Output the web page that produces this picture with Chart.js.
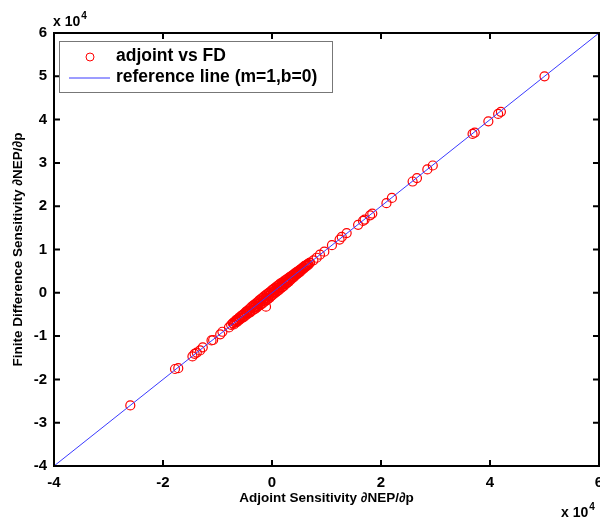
<!DOCTYPE html>
<html>
<head>
<meta charset="utf-8">
<script src="https://cdn.jsdelivr.net/npm/chart.js@4/dist/chart.umd.min.js"></script>
<style>
html,body{margin:0;padding:0;background:#fff;}
#wrap{width:600px;height:520px;position:relative;}
</style>
</head>
<body>
<div id="wrap"><canvas id="c" width="600" height="520"></canvas></div>
<script>
// ---- data (units of 1e4) ----
// sparse points
const adjointOuterX = [5.0, 4.15, 4.2, 3.97, 3.68, 3.72, 2.95, 2.85, 2.66, 2.58, 2.2, 2.1,
  1.84, 1.80, 1.70, 1.67, 1.58, 1.37, 1.28, 1.24, 1.10, 0.96, 0.88, 0.82, 0.76,
  -0.75, -0.79, -0.91, -0.95, -1.08, -1.11, -1.27, -1.32, -1.38,
  -1.42, -1.46, -1.72, -1.78, -2.6, -0.11];
const fdOuterY = [5.0, 4.13, 4.18, 3.96, 3.67, 3.70, 2.94, 2.85, 2.65, 2.57, 2.19, 2.07,
  1.83, 1.79, 1.69, 1.66, 1.57, 1.38, 1.29, 1.23, 1.10, 0.95, 0.88, 0.81, 0.75,
  -0.74, -0.80, -0.90, -0.96, -1.09, -1.10, -1.26, -1.33, -1.38,
  -1.41, -1.47, -1.74, -1.76, -2.6, -0.32];
// dense cluster near zero
const adjointDenseX = [-0.72,-0.70,-0.69,-0.67,-0.66,-0.64,-0.63,-0.61,-0.60,-0.58,-0.57,-0.55,
  -0.54,-0.52,-0.51,-0.49,-0.48,-0.46,-0.45,-0.43,-0.42,-0.40,-0.39,-0.37,-0.36,-0.34,-0.33,
  -0.31,-0.30,-0.28,-0.27,-0.25,-0.24,-0.22,-0.21,-0.19,-0.18,-0.16,-0.15,-0.13,-0.12,-0.10,
  -0.09,-0.07,-0.06,-0.04,-0.03,-0.01,0.00,0.01,0.03,0.04,0.06,0.07,0.09,0.10,0.12,0.13,0.15,
  0.16,0.18,0.19,0.21,0.22,0.24,0.25,0.27,0.28,0.30,0.31,0.33,0.34,0.36,0.37,0.39,0.40,0.42,
  0.43,0.45,0.46,0.48,0.49,0.51,0.52,0.54,0.55,0.57,0.58,0.60,0.61,0.63,0.64,0.66,0.67,0.69,0.70,
  -0.65,-0.59,-0.53,-0.47,-0.41,-0.35,-0.32,-0.29,-0.26,-0.23,-0.20,-0.17,-0.14,-0.11,-0.08,
  -0.05,-0.02,0.02,0.05,0.08,0.11,0.14,0.17,0.20,0.23,0.26,0.29,0.32,0.35,0.38,0.41,0.44,0.47,
  0.50,0.53,0.56,0.59,0.62,0.65];
const fdDenseY = [-0.70,-0.73,-0.67,-0.69,-0.63,-0.67,-0.61,-0.64,-0.57,-0.61,-0.54,-0.58,
  -0.51,-0.56,-0.48,-0.53,-0.44,-0.50,-0.41,-0.47,-0.38,-0.45,-0.34,-0.42,-0.31,-0.39,-0.28,
  -0.37,-0.25,-0.34,-0.22,-0.31,-0.18,-0.28,-0.15,-0.26,-0.12,-0.23,-0.09,-0.20,-0.06,-0.17,
  -0.03,-0.14,0.00,-0.11,0.03,-0.07,0.06,-0.05,0.09,-0.02,0.12,0.01,0.15,0.04,0.18,0.07,0.21,
  0.10,0.23,0.13,0.26,0.16,0.29,0.20,0.31,0.23,0.34,0.26,0.37,0.30,0.39,0.33,0.42,0.36,0.45,
  0.40,0.48,0.43,0.50,0.46,0.53,0.49,0.56,0.53,0.59,0.56,0.62,0.59,0.64,0.62,0.67,0.65,0.69,0.70,
  -0.65,-0.59,-0.53,-0.47,-0.42,-0.35,-0.33,-0.30,-0.26,-0.24,-0.20,-0.18,-0.14,-0.12,-0.08,
  -0.06,-0.02,0.01,0.05,0.07,0.11,0.13,0.17,0.19,0.23,0.25,0.29,0.31,0.35,0.37,0.41,0.43,0.47,
  0.49,0.53,0.56,0.59,0.62,0.65];
const refX = [-4, 6];
const refY = [-4, 6];
const xTickStep = 2;
const yTickStep = 1;
const axisMin = -4, axisMax = 6;
const seriesLabels = ['adjoint vs FD', 'reference line (m=1,b=0)'];
const xTitle = 'Adjoint Sensitivity \u2202NEP/\u2202p';
const yTitle = 'Finite Difference Sensitivity \u2202NEP/\u2202p';
const expLabel = ['x 10', '4'];

const FONT = "'Liberation Sans', Arial, Helvetica, sans-serif";

const scatterData = adjointOuterX.map((v, i) => ({ x: v, y: fdOuterY[i] }))
  .concat(adjointDenseX.map((v, i) => ({ x: v, y: fdDenseY[i] })));

const framePlugin = {
  id: 'frame',
  afterDraw(chart) {
    const ctx = chart.ctx;
    const a = chart.chartArea;
    const xs = chart.scales.x, ys = chart.scales.y;
    ctx.save();
    ctx.strokeStyle = '#000';
    ctx.lineWidth = 2;
    ctx.strokeRect(a.left, a.top, a.right - a.left, a.bottom - a.top);
    const tl = 6;
    ctx.beginPath();
    xs.ticks.forEach(t => {
      const px = xs.getPixelForValue(t.value);
      ctx.moveTo(px, a.bottom); ctx.lineTo(px, a.bottom - tl);
      ctx.moveTo(px, a.top); ctx.lineTo(px, a.top + tl);
    });
    ys.ticks.forEach(t => {
      const py = ys.getPixelForValue(t.value);
      ctx.moveTo(a.left, py); ctx.lineTo(a.left + tl, py);
      ctx.moveTo(a.right, py); ctx.lineTo(a.right - tl, py);
    });
    ctx.stroke();

    // exponent labels
    ctx.fillStyle = '#000';
    ctx.textBaseline = 'alphabetic';
    ctx.textAlign = 'left';
    ctx.font = 'bold 14px ' + FONT;
    ctx.fillText(expLabel[0], a.left - 1, a.top - 7);
    let w = ctx.measureText(expLabel[0]).width;
    ctx.font = 'bold 10px ' + FONT;
    ctx.fillText(expLabel[1], a.left - 1 + w + 1, a.top - 14);
    ctx.font = 'bold 14px ' + FONT;
    ctx.fillText(expLabel[0], a.right - 38, 517);
    w = ctx.measureText(expLabel[0]).width;
    ctx.font = 'bold 10px ' + FONT;
    ctx.fillText(expLabel[1], a.right - 38 + w + 1, 510);

    // legend box
    const lx = 59, ly = a.top + 8, lw = 273, lh = 51;
    ctx.fillStyle = '#fff';
    ctx.fillRect(lx, ly, lw, lh);
    ctx.strokeStyle = '#777';
    ctx.lineWidth = 1;
    ctx.strokeRect(lx + 0.5, ly + 0.5, lw, lh);
    ctx.strokeStyle = '#ff0000';
    ctx.beginPath();
    ctx.arc(90, ly + 16, 4, 0, Math.PI * 2);
    ctx.stroke();
    ctx.strokeStyle = '#3a3aff';
    ctx.beginPath();
    ctx.moveTo(69, ly + 37); ctx.lineTo(110, ly + 37);
    ctx.stroke();
    ctx.fillStyle = '#000';
    ctx.font = 'bold 17.5px ' + FONT;
    ctx.textBaseline = 'middle';
    ctx.fillText(seriesLabels[0], 116, ly + 15);
    ctx.fillText(seriesLabels[1], 116, ly + 36);
    ctx.restore();
  }
};

new Chart(document.getElementById('c'), {
  type: 'scatter',
  data: {
    datasets: [
      {
        label: seriesLabels[0],
        data: scatterData,
        borderColor: '#ff0000',
        backgroundColor: 'rgba(0,0,0,0)',
        pointRadius: 4.5,
        pointBorderWidth: 1.2,
        pointHoverRadius: 4.5,
        order: 2
      },
      {
        type: 'line',
        label: seriesLabels[1],
        data: refX.map((v, i) => ({ x: v, y: refY[i] })),
        borderColor: '#3a3aff',
        borderWidth: 1,
        pointRadius: 0,
        fill: false,
        order: 1
      }
    ]
  },
  options: {
    responsive: false,
    animation: false,
    events: [],
    layout: { autoPadding: false, padding: { top: 33, right: 1, left: 0, bottom: 2 } },
    plugins: { legend: { display: false }, tooltip: { enabled: false } },
    scales: {
      x: {
        type: 'linear', min: axisMin, max: axisMax,
        grid: { display: false, drawTicks: false },
        border: { display: false },
        ticks: { stepSize: xTickStep, padding: 8, color: '#000',
          font: { family: FONT, size: 15, weight: 'bold' },
          maxRotation: 0, autoSkip: false, callback: v => String(v) },
        title: { display: true, text: xTitle, color: '#000',
          font: { family: FONT, size: 13.5, weight: 'bold' }, padding: { top: 0, bottom: 12 } },
        afterFit(s) { s.height = 52; s.paddingLeft = 0; s.paddingRight = 0; }
      },
      y: {
        type: 'linear', min: axisMin, max: axisMax,
        grid: { display: false, drawTicks: false },
        border: { display: false },
        ticks: { stepSize: yTickStep, padding: 7, color: '#000',
          font: { family: FONT, size: 15, weight: 'bold' },
          autoSkip: false, callback: v => String(v) },
        title: { display: true, text: yTitle, color: '#000',
          font: { family: FONT, size: 13.5, weight: 'bold' }, padding: { top: 10, bottom: 0 } },
        afterFit(s) { s.width = 54; s.paddingTop = 0; s.paddingBottom = 0; }
      }
    }
  },
  plugins: [framePlugin]
});
</script>
</body>
</html>
